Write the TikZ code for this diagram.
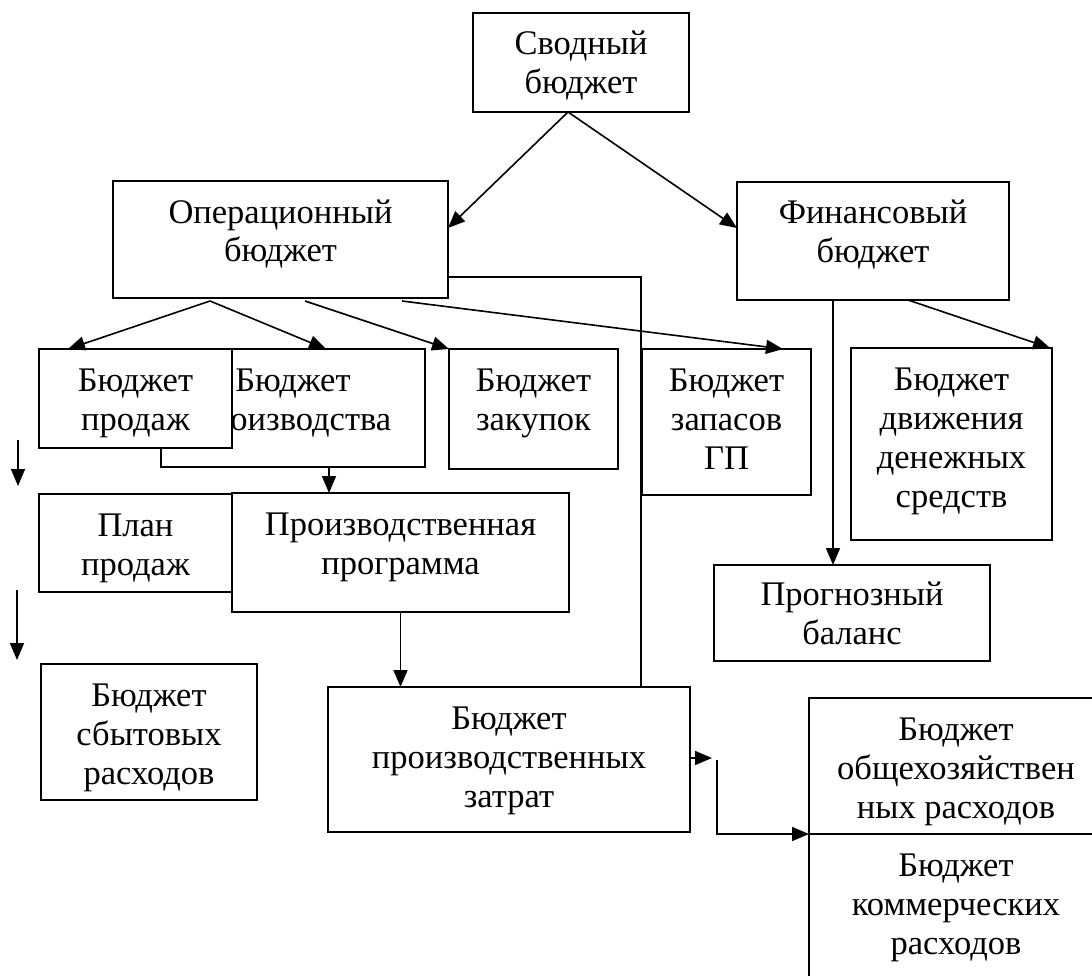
\documentclass[tikz,border=0pt]{standalone}
\usepackage{fontspec}
\setmainfont{Liberation Serif}
\usetikzlibrary{arrows.meta}
\begin{document}
\begin{tikzpicture}[x=1pt,y=-1pt,
  box/.style={draw,line width=1.6pt,inner sep=0pt,outer sep=0pt,anchor=north west},
  lbl/.style={anchor=base,align=center,font=\fontsize{34.5}{39}\selectfont,inner sep=0pt},
  arr/.style={line width=1.6pt,-{Triangle[length=17pt,width=14pt]}},
  ln/.style={line width=1.6pt}]
\useasboundingbox (0,0) rectangle (1092,976);
\clip (0,0) rectangle (1092,976);

% boxes (text nodes anchored at the baseline of their last line)
\node[box,minimum width=216pt,minimum height=99pt] (svod) at (473,13) {};
\node[lbl] (svodT) at (581,94) {Сводный\\бюджет};

\node[box,minimum width=335pt,minimum height=117pt] (oper) at (113,181) {};
\node[lbl] (operT) at (280.5,262) {Операционный\\бюджет};

\node[box,minimum width=272pt,minimum height=118pt] (fin) at (737,182) {};
\node[lbl] (finT) at (873,263) {Финансовый\\бюджет};

\node[box,minimum width=264pt,minimum height=118pt] (prod) at (161,349) {};
\node[lbl] (prodT) at (293,430) {Бюджет\\производства};

\node[box,fill=white,minimum width=193pt,minimum height=99pt] (sales) at (39,349) {};
\node[lbl] (salesT) at (135.5,430) {Бюджет\\продаж};

\node[box,minimum width=169pt,minimum height=120pt] (zak) at (449,349) {};
\node[lbl] (zakT) at (533.5,430) {Бюджет\\закупок};

\node[box,minimum width=169pt,minimum height=146pt] (zap) at (642,349) {};
\node[lbl] (zapT) at (726.5,469) {Бюджет\\запасов\\ГП};

\node[box,minimum width=201pt,minimum height=192pt] (dds) at (851,348) {};
\node[lbl] (ddsT) at (951.5,507) {Бюджет\\движения\\денежных\\средств};

\node[box,minimum width=276pt,minimum height=96pt] (progn) at (714,565) {};
\node[lbl] (prognT) at (852,644) {Прогнозный\\баланс};

\node[box,minimum width=193pt,minimum height=98pt] (plan) at (39,494) {};
\node[lbl] (planT) at (135.5,575) {План\\продаж};

\node[box,minimum width=337pt,minimum height=119pt] (prog) at (232,493) {};
\node[lbl] (progT) at (400.5,574) {Производственная\\программа};

\node[box,minimum width=216pt,minimum height=136pt] (sbyt) at (41,664) {};
\node[lbl] (sbytT) at (149,784) {Бюджет\\сбытовых\\расходов};

\node[box,minimum width=362pt,minimum height=145pt] (zatr) at (328,687) {};
\node[lbl] (zatrT) at (509,807) {Бюджет\\производственных\\затрат};

\node[box,minimum width=294pt,minimum height=136pt] (obh) at (809,698) {};
\node[lbl] (obhT) at (956,818) {Бюджет\\общехозяйствен\\ных расходов};

\node[box,minimum width=294pt,minimum height=200pt] (kom) at (809,834) {};
\node[lbl] (komT) at (956,954) {Бюджет\\коммерческих\\расходов};

% free-end coordinates
\coordinate (l1s) at (18,440);
\coordinate (l1e) at (18,486);
\coordinate (l2s) at (17,590);
\coordinate (l2e) at (17,660);
\coordinate (zt) at (712,758);
\coordinate (zs) at (717,760);

% connectors
\draw[arr] ([xshift=-13pt]svod.south) -- ([yshift=11.5pt]oper.east);
\draw[arr] ([xshift=-13pt]svod.south) -- ([yshift=13pt]fin.west);

\draw[arr] ([xshift=-70.5pt,yshift=-3pt]oper.south) -- ([xshift=-67.5pt]sales.north);
\draw[arr] ([xshift=-70.5pt,yshift=-3pt]oper.south) -- ([xshift=33pt]prod.north);
\draw[arr] ([xshift=24.5pt,yshift=-3pt]oper.south) -- (zak.north west);
\draw[arr] ([xshift=121.5pt,yshift=-3pt]oper.south) -- ([xshift=56.5pt]zap.north);
\draw[ln] ([yshift=-37.5pt]oper.east) -| ([xshift=132pt]zatr.north);

\draw[arr] ([xshift=35pt]fin.south) -- ([xshift=-2pt]dds.north east);
\draw[arr] ([xshift=-40pt]fin.south) -- ([xshift=-19pt]progn.north);

\draw[arr] ([xshift=36pt]prod.south) -- ([xshift=36pt]prod.south |- prog.north);
\draw[arr] (prog.south) -- (prog.south |- zatr.north);

\draw[arr] (l1s) -- (l1e);
\draw[arr] (l2s) -- (l2e);

\draw[arr] (zatr.east |- zt) -- (zt);
\draw[arr] (zs) |- (obh.south west);
\end{tikzpicture}
\end{document}
